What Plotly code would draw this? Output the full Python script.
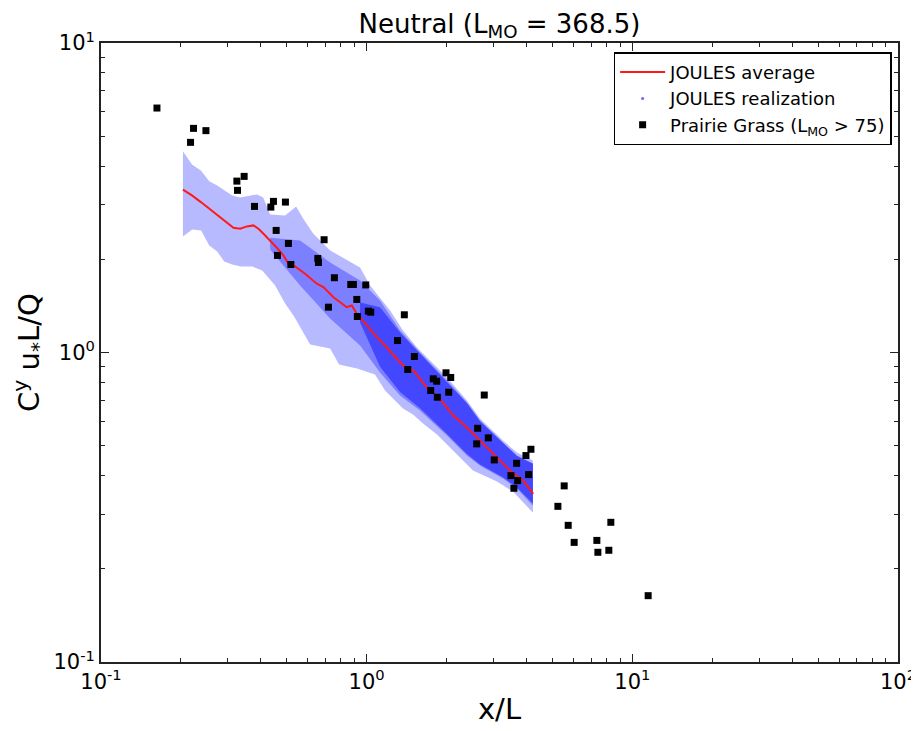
import plotly.graph_objects as go

# ---- Data ----
# Prairie Grass observations (L_MO > 75)
pg_x = [0.1624, 0.2230, 0.2483, 0.2173, 0.3247, 0.3458, 0.3264, 0.3782, 0.4458, 0.4358,
        0.4945, 0.4564, 0.5075, 0.4615, 0.6915, 0.6548, 0.6583, 0.5183, 0.7560, 0.8712,
        0.8913, 0.9922, 0.9180, 0.7178, 1.015, 1.036, 0.9226, 1.386, 1.307, 1.512,
        1.428, 1.989, 2.072, 1.781, 1.835, 1.742, 2.036, 1.845, 2.771, 2.617,
        2.869, 2.595, 4.152, 3.022, 3.977, 3.669, 4.070, 3.492, 3.701, 3.583,
        5.540, 5.246, 5.736, 8.300, 6.040, 7.354, 8.158, 7.418, 11.47]
pg_y = [6.164, 5.299, 5.210, 4.775, 3.579, 3.707, 3.341, 2.965, 3.078, 2.950,
        3.062, 2.480, 2.251, 2.059, 2.314, 2.013, 1.954, 1.925, 1.744, 1.659,
        1.659, 1.653, 1.484, 1.401, 1.360, 1.350, 1.307, 1.324, 1.093, 0.9707,
        0.8810, 0.8598, 0.8302, 0.8222, 0.8077, 0.7536, 0.7441, 0.7169, 0.7287, 0.5691,
        0.5299, 0.5068, 0.4868, 0.4497, 0.4645, 0.4385, 0.4032, 0.4002, 0.3857, 0.3642,
        0.3707, 0.3184, 0.2764, 0.2827, 0.2435, 0.2471, 0.2296, 0.2262, 0.1638]

# JOULES average
avg_x = [0.2034, 0.2199, 0.2377, 0.2555, 0.2731, 0.2934, 0.3152, 0.3341, 0.3540, 0.3749,
         0.3915, 0.4088, 0.4332, 0.4591, 0.4861, 0.5075, 0.5379, 0.5864, 0.6491, 0.6874,
         0.7496, 0.8417, 0.8790, 0.9180, 1.015, 1.091, 1.190, 1.316, 1.415, 1.498,
         1.683, 1.888, 2.119, 2.379, 2.670, 2.995, 3.462, 3.884, 4.236]
avg_y = [3.357, 3.218, 3.062, 2.915, 2.773, 2.638, 2.530, 2.512, 2.555, 2.574,
         2.512, 2.420, 2.302, 2.180, 2.059, 1.935, 1.897, 1.796, 1.668, 1.626,
         1.509, 1.401, 1.419, 1.334, 1.207, 1.121, 1.040, 0.9421, 0.8859, 0.8747,
         0.7721, 0.7084, 0.6255, 0.5734, 0.5194, 0.4705, 0.4154, 0.3857, 0.3493]

# JOULES realizations: outer envelope of the point cloud
real_up_x = [0.2034, 0.2199, 0.2377, 0.2555, 0.2738, 0.2909, 0.3117, 0.3341, 0.3871, 0.4078,
             0.4332, 0.4932, 0.5426, 0.5764, 0.6288, 0.7285, 0.8439, 0.9445, 1.030, 1.123,
             1.225, 1.370, 1.547, 1.731, 2.006, 2.385, 2.670, 3.258, 3.678, 4.225]
real_up_y = [4.466, 4.053, 3.876, 3.572, 3.467, 3.341, 3.218, 3.170, 3.242, 3.170,
             2.794, 2.773, 2.965, 2.712, 2.425, 2.137, 1.984, 1.883, 1.647, 1.495,
             1.367, 1.178, 1.038, 0.9421, 0.8302, 0.6995, 0.6117, 0.5194, 0.4750, 0.4474]
real_lo_x = [0.2034, 0.2205, 0.2383, 0.2555, 0.2738, 0.2909, 0.3117, 0.3370, 0.3707, 0.4043,
             0.4524, 0.4932, 0.5333, 0.6126, 0.7285, 0.7874, 0.9203, 1.075, 1.173, 1.370,
             1.495, 1.630, 1.840, 2.245, 2.513, 3.093, 3.553, 4.225]
real_lo_y = [2.371, 2.499, 2.480, 2.218, 2.121, 1.969, 1.925, 1.897, 1.897, 1.841,
             1.647, 1.440, 1.307, 1.061, 1.030, 0.9146, 0.8877, 0.8489, 0.7536, 0.6592,
             0.6302, 0.5894, 0.5431, 0.4575, 0.4154, 0.3829, 0.3553, 0.3039]

# denser middle of the realization cloud
mid_x = [0.4332, 0.5617, 0.7285, 0.9445, 1.123, 1.335, 1.588, 2.006, 2.385, 2.670, 3.258, 3.678, 4.225]
mid_up_y = [2.35, 2.302, 1.954, 1.709, 1.473, 1.178, 1.000, 0.8118, 0.6893, 0.6028, 0.5117, 0.4645, 0.4375]
mid_lo_y = [2.15, 1.647, 1.288, 1.053, 0.8617, 0.7261, 0.6494, 0.5390, 0.4645, 0.4311, 0.3915, 0.3634, 0.3200]

# densest core (x > ~1)
core_x = [0.9445, 1.123, 1.335, 1.588, 2.006, 2.385, 2.670, 3.258, 3.678, 4.225]
core_up_y = [1.45, 1.40, 1.16, 0.99, 0.805, 0.685, 0.600, 0.510, 0.463, 0.437]
core_lo_y = [1.25, 0.90, 0.745, 0.660, 0.545, 0.470, 0.435, 0.395, 0.366, 0.325]

# axis ticks
major_ticks = [0.1, 1, 10, 100]
x_tick_text = ["10<sup>-1</sup>", "10<sup>0</sup>", "10<sup>1</sup>", "10<sup>2</sup>"]
y_major_ticks = [0.1, 1, 10]
y_tick_text = ["10<sup>-1</sup>", "10<sup>0</sup>", "10<sup>1</sup>"]
minor_ticks = [m * 10 ** e for e in (-1, 0, 1) for m in range(2, 10)]

FONT = "DejaVu Sans"

fig = go.Figure()

fig.add_trace(go.Scatter(
    x=real_up_x + real_lo_x[::-1], y=real_up_y + real_lo_y[::-1],
    fill="toself", fillcolor="rgba(40,45,255,0.33)", mode="lines",
    line=dict(width=0), hoverinfo="skip", showlegend=False))
fig.add_trace(go.Scatter(
    x=mid_x + mid_x[::-1], y=mid_up_y + mid_lo_y[::-1],
    fill="toself", fillcolor="rgba(40,45,255,0.42)", mode="lines",
    line=dict(width=0), hoverinfo="skip", showlegend=False))
fig.add_trace(go.Scatter(
    x=core_x + core_x[::-1], y=core_up_y + core_lo_y[::-1],
    fill="toself", fillcolor="rgba(40,45,255,0.68)", mode="lines",
    line=dict(width=0), hoverinfo="skip", showlegend=False))

fig.add_trace(go.Scatter(
    x=avg_x, y=avg_y, mode="lines", name="JOULES average",
    line=dict(color="#ff1a1a", width=2), legendrank=1))
fig.add_trace(go.Scatter(
    x=[None], y=[None], mode="markers", name="JOULES realization",
    marker=dict(color="rgba(40,40,255,0.7)", size=3), legendrank=2))
fig.add_trace(go.Scatter(
    x=pg_x, y=pg_y, mode="markers", name="Prairie Grass (L<sub>MO</sub> > 75)",
    marker=dict(symbol="square", color="black", size=7), legendrank=3))

axis_common = dict(
    type="log", showgrid=False, zeroline=False, automargin=False,
    showline=True, linecolor="#222", linewidth=1.8, mirror="ticks",
    ticks="inside", ticklen=8, tickwidth=1, tickcolor="#222",
    tickfont=dict(family=FONT, size=21, color="black"),
    minor=dict(tickvals=minor_ticks, ticks="inside", ticklen=4, tickwidth=1, tickcolor="#222", showgrid=False),
)

fig.update_xaxes(**axis_common, range=[-1, 2], tickmode="array", tickvals=major_ticks, ticktext=x_tick_text,
                 title=dict(text="x/L", font=dict(family=FONT, size=29, color="black"), standoff=6))
fig.update_yaxes(**axis_common, range=[-1, 1], tickmode="array", tickvals=y_major_ticks, ticktext=y_tick_text,
                 title=dict(text="C<sup>y</sup> u<sub>*</sub>L/Q", font=dict(family=FONT, size=29, color="black"), standoff=10))

# the page body adds an 8px offset, so the figure is sized to fit the 919x731 window
fig.update_layout(
    width=911, height=723,
    margin=dict(l=93, r=21, t=35, b=69),
    plot_bgcolor="white", paper_bgcolor="white",
    title=dict(text="Neutral (L<sub>MO</sub> = 368.5)", x=0.5, xref="paper",
               y=0.978, yref="container", yanchor="middle",
               font=dict(family=FONT, size=26, color="black")),
    legend=dict(x=0.992, y=0.985, xanchor="right", yanchor="top",
                bordercolor="black", borderwidth=1.5, bgcolor="white",
                font=dict(family=FONT, size=18, color="black"),
                itemwidth=45),
    font=dict(family=FONT),
)

fig.write_html("out.html")
